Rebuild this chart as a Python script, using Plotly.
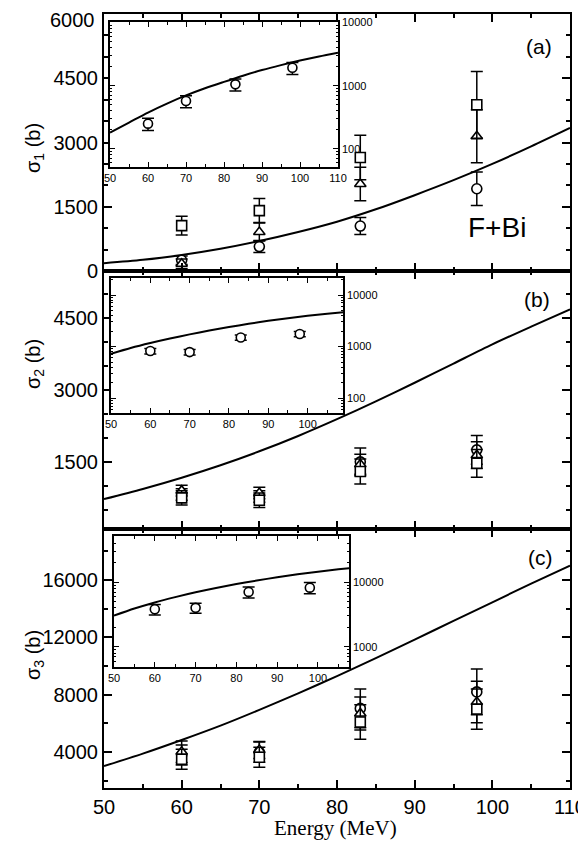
import plotly.graph_objects as go

# ---------------- data ----------------
energy = [60, 70, 83, 98]

sig1_circle = [250, 570, 1050, 1920]
sig1_circle_err = [100, 140, 200, 390]
sig1_square = [1060, 1410, 2650, 3880]
sig1_square_err = [220, 280, 520, 780]
sig1_triangle = [170, 910, 2030, 3145]
sig1_triangle_err = [110, 210, 390, 620]

sig2_circle = [820, 780, 1500, 1750]
sig2_circle_err = [120, 120, 290, 300]
sig2_square = [750, 700, 1300, 1470]
sig2_square_err = [150, 150, 260, 290]
sig2_triangle = [900, 850, 1450, 1640]
sig2_triangle_err = [110, 120, 210, 280]

sig3_circle = [3800, 4000, 7050, 8200]
sig3_circle_err = [700, 700, 1350, 1600]
sig3_square = [3500, 3640, 6100, 7000]
sig3_square_err = [700, 700, 1200, 1400]
sig3_triangle = [4030, 4150, 6700, 7500]
sig3_triangle_err = [750, 600, 1150, 1450]

# error bars of the circles drawn in the log-scale insets
inset1_circle_err = [55, 125, 230, 420]
inset2_circle_err = [100, 95, 180, 210]
inset3_circle_err = [700, 700, 1350, 1600]

curve_energy = [50, 55, 60, 65, 70, 75, 80, 85, 90, 95, 100, 105, 110]
curve1 = [180, 260, 375, 520, 700, 910, 1150, 1440, 1770, 2120, 2500, 2910, 3340]
curve2 = [724, 935, 1170, 1430, 1720, 2040, 2390, 2760, 3150, 3550, 3950, 4320, 4680]
curve3 = [3030, 3900, 4850, 5850, 6950, 8100, 9300, 10550, 11850, 13150, 14450, 15750, 17000]

main_yticks1 = [0, 1500, 3000, 4500, 6000]
main_yticks2 = [1500, 3000, 4500]
main_yticks3 = [4000, 8000, 12000, 16000]
inset_yticks = [100, 1000, 10000]

# ---------------- geometry (page pixels; page body has an 8px offset) ----------------
OFF = 8
W, H = 586, 846
PX0, PX1 = 104, 570      # plot area left/right in page pixels
PY0, PY1 = 14, 788       # plot area top/bottom in page pixels
PW, PH = PX1 - PX0, PY1 - PY0
ML, MT = PX0 - OFF, PY0 - OFF
MR, MB = W - ML - PW, H - MT - PH


def py(y):
    return (PY1 - y) / PH


def px(x):
    return (x - PX0) / PW


fig = go.Figure()

FONT = "Liberation Sans, Arial, sans-serif"


def add_panel(idx, circ, ce, sq, se, tri, te, curve, size=10):
    xa = "x" if idx == 1 else f"x{idx}"
    ya = "y" if idx == 1 else f"y{idx}"
    fig.add_trace(go.Scatter(x=curve_energy, y=curve, mode="lines",
                             line=dict(color="black", width=2, shape="spline", smoothing=0.8),
                             xaxis=xa, yaxis=ya, showlegend=False))
    series = [(circ, ce, "circle")]
    if tri is not None:
        series.append((tri, te, "triangle-up"))
    if sq is not None:
        series.append((sq, se, "square"))
    for vals, err, sym in series:
        fig.add_trace(go.Scatter(
            x=energy, y=vals, mode="markers",
            marker=dict(symbol=sym, size=size, color="white",
                        line=dict(color="black", width=1.6)),
            error_y=dict(type="data", array=err, color="black",
                         thickness=1.5, width=6),
            xaxis=xa, yaxis=ya, showlegend=False))


add_panel(1, sig1_circle, sig1_circle_err, sig1_square, sig1_square_err,
          sig1_triangle, sig1_triangle_err, curve1)
add_panel(2, sig2_circle, sig2_circle_err, sig2_square, sig2_square_err,
          sig2_triangle, sig2_triangle_err, curve2)
add_panel(3, sig3_circle, sig3_circle_err, sig3_square, sig3_square_err,
          sig3_triangle, sig3_triangle_err, curve3)
add_panel(4, sig1_circle, inset1_circle_err, None, None, None, None, curve1, size=9)
add_panel(5, sig2_circle, inset2_circle_err, None, None, None, None, curve2, size=9)
add_panel(6, sig3_circle, inset3_circle_err, None, None, None, None, curve3, size=9)

main_ax = dict(showline=True, linecolor="black", linewidth=2, mirror="allticks",
               ticks="inside", ticklen=8, tickwidth=1.5, tickcolor="black",
               showgrid=False, zeroline=False, automargin=False,
               tickfont=dict(family=FONT, size=20, color="black"))

xmain = dict(main_ax, range=[50, 110], dtick=10, tick0=50,
             minor=dict(dtick=5, ticks="inside", ticklen=4, tickwidth=1.5, tickcolor="black"))

pa = [py(271), py(14)]
pb = [py(529), py(271)]
pc = [py(788), py(529)]


def ymain(dom, anchor, rng, ticks, minor_dt, hide_top=False):
    txt = [str(v) for v in ticks]
    if hide_top:
        txt[-1] = ""
    return dict(main_ax, domain=dom, anchor=anchor, range=rng, tickvals=ticks,
                ticktext=txt,
                minor=dict(dtick=minor_dt, tick0=0, ticks="inside", ticklen=4,
                           tickwidth=1.5, tickcolor="black"))


layout = dict(
    width=W, height=H, margin=dict(l=ML, r=MR, t=MT, b=MB, autoexpand=False),
    paper_bgcolor="white", plot_bgcolor="white", showlegend=False,
    xaxis=dict(xmain, domain=[0, 1], anchor="y", showticklabels=False),
    xaxis2=dict(xmain, domain=[0, 1], anchor="y2", showticklabels=False),
    xaxis3=dict(xmain, domain=[0, 1], anchor="y3", showticklabels=True),
    yaxis=ymain(pa, "x", [0, 6000], main_yticks1, 500, hide_top=True),
    yaxis2=ymain(pb, "x2", [100, 5480], main_yticks2, 500),
    yaxis3=ymain(pc, "x3", [1500, 19560], main_yticks3, 2000),
)

inset_ax = dict(showline=True, linecolor="black", linewidth=1.5, mirror="allticks",
                ticks="inside", ticklen=5, tickwidth=1, tickcolor="black",
                showgrid=False, zeroline=False, automargin=False,
                tickfont=dict(family=FONT, size=11, color="black"))


def inset(n, xr, yr, xd, yd):
    layout[f"xaxis{n}"] = dict(inset_ax, domain=xd, anchor=f"y{n}", range=xr, dtick=10, tick0=50,
                               minor=dict(dtick=5, ticks="inside", ticklen=3, tickwidth=1, tickcolor="black"))
    layout[f"yaxis{n}"] = dict(inset_ax, domain=yd, anchor=f"x{n}", type="log", range=yr,
                               side="right", tickvals=inset_yticks, ticktext=[str(v) for v in inset_yticks],
                               minor=dict(dtick="D1", ticks="inside", ticklen=2, tickwidth=1, tickcolor="black"))


inset(4, [50, 110], [1.71, 4.01], [px(110), px(338)], [py(167), py(22)])
inset(5, [50, 109], [1.71, 4.33], [px(111), px(343)], [py(413), py(278)])
inset(6, [50, 107.6], [2.69, 4.71], [px(114), px(349)], [py(667), py(536)])

fig.update_layout(**layout)

ann = []
# top tick label of panel (a), placed as text so it is not dropped at the page edge
ann.append(dict(text=str(main_yticks1[-1]), x=px(96), y=py(OFF), xref="paper", yref="paper",
                showarrow=False, xanchor="right", yanchor="top", borderpad=0,
                font=dict(family=FONT, size=20, color="black")))
for label, x, y, s in [("(a)", 539, 46, 21), ("(b)", 537, 299, 21), ("(c)", 540, 557, 21),
                       ("F+Bi", 497, 228, 28)]:
    ann.append(dict(text=label, x=px(x), y=py(y), xref="paper", yref="paper",
                    showarrow=False, xanchor="center", yanchor="middle",
                    font=dict(family=FONT, size=s, color="black")))
for label, y in [("σ<sub>1</sub> (b)", 148), ("σ<sub>2</sub> (b)", 364), ("σ<sub>3</sub> (b)", 655)]:
    ann.append(dict(text=label, x=px(34), y=py(y), xref="paper", yref="paper",
                    showarrow=False, textangle=-90, xanchor="center", yanchor="middle",
                    font=dict(family=FONT, size=20, color="black")))
ann.append(dict(text="Energy (MeV)", x=px(335), y=py(828), xref="paper", yref="paper",
                showarrow=False, xanchor="center", yanchor="middle",
                font=dict(family="Liberation Serif, Times New Roman, serif", size=21, color="black")))
fig.update_layout(annotations=ann)

fig.write_html("out.html")
